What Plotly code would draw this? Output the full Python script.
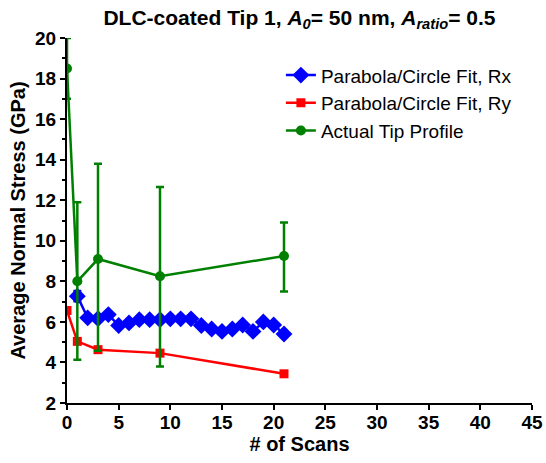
import plotly.graph_objects as go

# Parabola/Circle Fit, Rx
rx_x = [1, 2, 3, 4, 5, 6, 7, 8, 9, 10, 11, 12, 13, 14, 15, 16, 17, 18, 19, 20, 21]
rx_y = [7.27, 6.2, 6.16, 6.36, 5.82, 5.95, 6.11, 6.11, 6.11, 6.15, 6.15, 6.15,
        5.82, 5.65, 5.53, 5.65, 5.85, 5.53, 6.0, 5.85, 5.4]
rx_err = [0.25] + [0.0] * 20

# Parabola/Circle Fit, Ry
ry_x = [0, 1, 3, 9, 21]
ry_y = [6.56, 5.04, 4.63, 4.46, 3.44]

# Actual Tip Profile
tp_x = [0, 1, 3, 9, 21]
tp_y = [18.5, 8.0, 9.1, 8.25, 9.25]
tp_err_plus = [1.5, 3.9, 4.7, 4.4, 1.65]
tp_err_minus = [1.5, 3.87, 4.52, 4.45, 1.75]

# tick labels
x_ticks = [0, 5, 10, 15, 20, 25, 30, 35, 40, 45]
y_ticks = [2, 4, 6, 8, 10, 12, 14, 16, 18, 20]

FONT = "Liberation Sans, Arial, sans-serif"

fig = go.Figure()
fig.add_trace(go.Scatter(
    x=rx_x, y=rx_y, mode="lines+markers", name="Parabola/Circle Fit, Rx",
    line=dict(color="#0000FF", width=2.5),
    marker=dict(symbol="diamond", size=13, color="#0000FF"),
    error_y=dict(type="data", array=rx_err, color="#0000FF", thickness=2.5, width=4),
))
fig.add_trace(go.Scatter(
    x=ry_x, y=ry_y, mode="lines+markers", name="Parabola/Circle Fit, Ry",
    line=dict(color="#FF0000", width=2.5),
    marker=dict(symbol="square", size=9, color="#FF0000"),
))
fig.add_trace(go.Scatter(
    x=tp_x, y=tp_y, mode="lines+markers", name="Actual Tip Profile",
    line=dict(color="#008000", width=2.5),
    marker=dict(symbol="circle", size=10, color="#008000"),
    error_y=dict(type="data", symmetric=False, array=tp_err_plus, arrayminus=tp_err_minus,
                 color="#008000", thickness=2.5, width=4),
))

fig.update_layout(
    width=546, height=463,
    margin=dict(l=67, r=14, t=38, b=60, autoexpand=False),
    paper_bgcolor="white", plot_bgcolor="white",
    font=dict(family=FONT, color="black"),
    title=dict(
        text="<b>DLC-coated Tip 1, <i>A<sub>0</sub></i>= 50 nm, <i>A<sub>ratio</sub></i>= 0.5</b>",
        font=dict(size=21, family=FONT),
        x=0.5, xref="paper", xanchor="center", y=0.962, yanchor="middle",
    ),
    showlegend=True,
    legend=dict(x=0.46, y=0.95, xanchor="left", yanchor="top",
                font=dict(size=19, family=FONT), bgcolor="rgba(0,0,0,0)",
                itemwidth=30),
    xaxis=dict(
        range=[0, 45], tickvals=x_ticks, ticktext=["<b>%d</b>" % v for v in x_ticks],
        automargin=False,
        showgrid=False, zeroline=False, showline=True, linecolor="black", linewidth=2,
        ticks="outside", ticklen=5, tickwidth=2, tickcolor="black",
        tickfont=dict(size=19, family=FONT), ticklabelstandoff=-4,
        title=dict(text="<b># of Scans</b>", font=dict(size=20, family=FONT), standoff=2),
    ),
    yaxis=dict(
        range=[2, 20], tickvals=y_ticks, ticktext=["<b>%d</b>" % v for v in y_ticks],
        automargin=False,
        showgrid=False, zeroline=False, showline=True, linecolor="black", linewidth=2,
        ticks="outside", ticklen=5, tickwidth=2, tickcolor="black",
        minor=dict(dtick=1, ticks="outside", ticklen=3, tickwidth=2, tickcolor="black"),
        tickfont=dict(size=19, family=FONT),
        title=dict(text="<b>Average Normal Stress (GPa)</b>", font=dict(size=20, family=FONT), standoff=4),
    ),
)

fig.write_html("out.html")
